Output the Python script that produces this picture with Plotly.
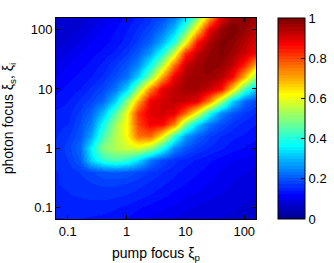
import plotly.graph_objects as go

# log10 of pump focus (x) and photon focus (y) grid centres
log_xi_p = [-1.2, -1.0, -0.8, -0.6, -0.4, -0.2, 0.0, 0.2, 0.4, 0.6, 0.8, 1.0, 1.2, 1.4, 1.6, 1.8, 2.0, 2.2]
log_xi_s = [-1.2, -1.0, -0.8, -0.6, -0.4, -0.2, 0.0, 0.2, 0.4, 0.6, 0.8, 1.0, 1.2, 1.4, 1.6, 1.8, 2.0, 2.2]

# values, one row per photon-focus value (bottom to top)
z_rows = [
    [0.14, 0.14, 0.14, 0.138, 0.135, 0.13, 0.123, 0.115, 0.105, 0.098, 0.092, 0.087, 0.083, 0.08, 0.077, 0.075, 0.072, 0.07],
    [0.145, 0.15, 0.15, 0.15, 0.148, 0.143, 0.137, 0.128, 0.12, 0.112, 0.105, 0.098, 0.092, 0.087, 0.083, 0.08, 0.076, 0.073],
    [0.15, 0.155, 0.158, 0.16, 0.162, 0.16, 0.155, 0.148, 0.14, 0.13, 0.12, 0.112, 0.105, 0.098, 0.092, 0.087, 0.082, 0.078],
    [0.155, 0.16, 0.165, 0.17, 0.175, 0.175, 0.17, 0.162, 0.152, 0.143, 0.133, 0.125, 0.117, 0.108, 0.1, 0.093, 0.088, 0.083],
    [0.155, 0.162, 0.172, 0.185, 0.2, 0.205, 0.2, 0.185, 0.17, 0.155, 0.145, 0.135, 0.127, 0.118, 0.108, 0.1, 0.094, 0.088],
    [0.16, 0.172, 0.205, 0.33, 0.41, 0.44, 0.41, 0.34, 0.235, 0.185, 0.162, 0.148, 0.138, 0.128, 0.118, 0.11, 0.104, 0.098],
    [0.16, 0.178, 0.22, 0.36, 0.5, 0.54, 0.57, 0.58, 0.52, 0.39, 0.25, 0.2, 0.17, 0.155, 0.143, 0.132, 0.124, 0.115],
    [0.155, 0.17, 0.2, 0.28, 0.44, 0.54, 0.615, 0.76, 0.77, 0.625, 0.42, 0.27, 0.21, 0.175, 0.155, 0.145, 0.138, 0.13],
    [0.15, 0.155, 0.19, 0.24, 0.38, 0.52, 0.625, 0.8, 0.875, 0.87, 0.75, 0.5, 0.33, 0.23, 0.19, 0.165, 0.15, 0.14],
    [0.145, 0.15, 0.175, 0.215, 0.305, 0.45, 0.61, 0.82, 0.895, 0.91, 0.89, 0.77, 0.6, 0.39, 0.25, 0.2, 0.17, 0.155],
    [0.13, 0.14, 0.16, 0.18, 0.22, 0.32, 0.5, 0.7, 0.885, 0.91, 0.93, 0.92, 0.89, 0.74, 0.53, 0.33, 0.22, 0.18],
    [0.12, 0.13, 0.14, 0.16, 0.185, 0.23, 0.33, 0.52, 0.74, 0.89, 0.93, 0.955, 0.955, 0.92, 0.86, 0.66, 0.44, 0.3],
    [0.11, 0.12, 0.13, 0.14, 0.16, 0.19, 0.23, 0.33, 0.5, 0.71, 0.89, 0.95, 0.97, 0.965, 0.94, 0.87, 0.69, 0.5],
    [0.095, 0.11, 0.12, 0.13, 0.145, 0.17, 0.2, 0.25, 0.37, 0.54, 0.76, 0.92, 0.96, 0.98, 0.97, 0.93, 0.84, 0.69],
    [0.08, 0.095, 0.11, 0.12, 0.13, 0.145, 0.17, 0.205, 0.27, 0.39, 0.57, 0.82, 0.93, 0.97, 0.99, 0.96, 0.92, 0.87],
    [0.07, 0.08, 0.095, 0.11, 0.12, 0.13, 0.15, 0.175, 0.215, 0.29, 0.4, 0.6, 0.85, 0.95, 0.99, 0.98, 0.94, 0.9],
    [0.065, 0.07, 0.08, 0.095, 0.115, 0.125, 0.14, 0.16, 0.185, 0.23, 0.31, 0.45, 0.66, 0.89, 0.97, 1.0, 0.97, 0.93],
    [0.06, 0.065, 0.07, 0.08, 0.095, 0.115, 0.13, 0.145, 0.165, 0.19, 0.24, 0.33, 0.5, 0.71, 0.9, 0.97, 0.99, 0.96],
]

axis_tick_vals = [0.1, 1, 10, 100]
axis_tick_text = ["0.1", "1", "10", "100"]
cbar_tick_vals = [0, 0.2, 0.4, 0.6, 0.8, 1]
cbar_tick_text = ["0", "0.2", "0.4", "0.6", "0.8", "1"]

xi_p = [10 ** v for v in log_xi_p]
xi_s = [10 ** v for v in log_xi_s]


# MATLAB-style jet(64) colour map as a stepped plotly colorscale
def jet_rgb(t):
    def c(v):
        return max(0.0, min(1.0, v))
    r = c(1.5 - abs(4 * t - 3))
    g = c(1.5 - abs(4 * t - 2))
    b = c(1.5 - abs(4 * t - 1))
    return "rgb(%d,%d,%d)" % (round(r * 255), round(g * 255), round(b * 255))


n = 64
jet = []
for k in range(n):
    col = jet_rgb((k + 1) / n)
    jet.append([k / n, col])
    jet.append([(k + 1) / n, col])

family = "Liberation Sans, Arial, Helvetica, sans-serif"
tick_font = dict(family=family, size=13, color="black")
title_font = dict(family=family, size=14, color="black")

fig = go.Figure(
    go.Heatmap(
        x=xi_p,
        y=xi_s,
        z=z_rows,
        zmin=0,
        zmax=1,
        zsmooth="best",
        colorscale=jet,
        colorbar=dict(
            thickness=27,
            thicknessmode="pixels",
            len=1,
            lenmode="fraction",
            y=0.5,
            yanchor="middle",
            x=1.11,
            xanchor="left",
            xpad=0,
            ypad=0,
            outlinewidth=1,
            outlinecolor="black",
            tickvals=cbar_tick_vals,
            ticktext=cbar_tick_text,
            ticks="inside",
            ticklen=4,
            tickcolor="black",
            tickfont=tick_font,
        ),
    )
)

axis_common = dict(
    type="log",
    range=[-1.2, 2.2],
    tickvals=axis_tick_vals,
    ticktext=axis_tick_text,
    ticks="inside",
    ticklen=4,
    tickcolor="black",
    showline=True,
    linecolor="black",
    linewidth=1,
    mirror="ticks",
    showgrid=False,
    zeroline=False,
    tickfont=tick_font,
)

fig.update_layout(
    width=334,
    height=263,
    margin=dict(l=56, r=78, t=18, b=44, autoexpand=False),
    paper_bgcolor="white",
    plot_bgcolor="white",
    font=tick_font,
    xaxis=dict(axis_common, title=dict(text="pump focus ξ<sub>p</sub>", font=title_font, standoff=10)),
    yaxis=dict(axis_common, title=dict(text="photon focus ξ<sub>s</sub>, ξ<sub>i</sub>", font=title_font, standoff=14)),
)

fig.write_html(
    "out.html",
    config={"displayModeBar": False},
    post_script="document.body.style.margin='0px';",
)
